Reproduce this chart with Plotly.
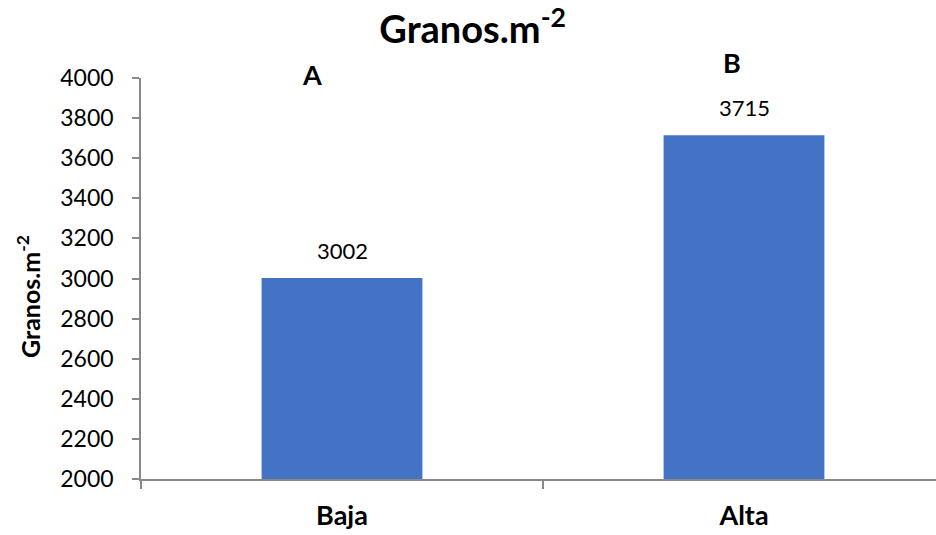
import plotly.graph_objects as go

# Grain density by planting density
categories = ["Baja", "Alta"]
granos = [3002, 3715]
letters = ["A", "B"]

y_ticks = list(range(2000, 4001, 200))

bar_color = "#4472C4"
axis_color = "#898989"
font_family = "Lato, 'Open Sans', sans-serif"

# plot-area geometry in pixels
W, H = 936, 535
ML, MR, MT, MB = 141, 0, 78, 56
plot_w = W - ML - MR
plot_h = H - MT - MB


def px_to_paper(px, py):
    return (px - ML) / plot_w, (H - MB - py) / plot_h


fig = go.Figure()
fig.add_trace(go.Bar(
    x=categories,
    y=granos,
    width=0.4,
    marker=dict(color=bar_color, line=dict(width=0)),
    showlegend=False,
    hoverinfo="skip",
))

annotations = []
# value labels above each bar
for cat, val in zip(categories, granos):
    annotations.append(dict(
        x=cat, y=val, xref="x", yref="y", text=str(val),
        showarrow=False, yanchor="bottom", yshift=12,
        font=dict(family=font_family, size=22, color="#000000"),
    ))
# significance letters
for (lx, ly), lt in zip([(312, 75), (732, 62)], letters):
    px, py = px_to_paper(lx, ly)
    annotations.append(dict(
        x=px, y=py, xref="paper", yref="paper", text=f"<b>{lt}</b>",
        showarrow=False, xanchor="center", yanchor="middle",
        font=dict(family=font_family, size=27, color="#000000"),
    ))
# y-axis title
tx, ty = px_to_paper(28, 297)
annotations.append(dict(
    x=tx, y=ty, xref="paper", yref="paper",
    text="<b>Granos.m<sup>-2</sup></b>", textangle=-90, showarrow=False,
    xanchor="center", yanchor="middle",
    font=dict(family=font_family, size=25, color="#000000"),
))

fig.update_layout(
    width=W, height=H,
    margin=dict(l=ML, r=MR, t=MT, b=MB),
    paper_bgcolor="white", plot_bgcolor="white",
    title=dict(
        text="<b>Granos.m<sup>-2</sup></b>",
        x=0.505, xref="container", xanchor="center",
        y=1 - 30 / H, yref="container", yanchor="middle",
        font=dict(family=font_family, size=38, color="#000000"),
    ),
    xaxis=dict(
        type="category",
        range=[-0.5, -0.5 + plot_w / 402],
        showline=True, linecolor=axis_color, linewidth=1.5,
        tickson="boundaries", ticks="outside", ticklen=8,
        tickcolor=axis_color, tickwidth=1.5,
        tickfont=dict(family=font_family, size=27, color="#000000"),
        tickvals=categories,
        ticktext=[f"<b>{c}</b>" for c in categories],
        ticklabelstandoff=12,
        showgrid=False, zeroline=False, fixedrange=True,
    ),
    yaxis=dict(
        range=[2000, 4000],
        tickvals=y_ticks,
        showline=True, linecolor=axis_color, linewidth=1.5,
        ticks="outside", ticklen=7, tickcolor=axis_color, tickwidth=1.5,
        tickfont=dict(family=font_family, size=23, color="#000000"),
        ticklabelstandoff=14,
        showgrid=False, zeroline=False, fixedrange=True,
    ),
    annotations=annotations,
)

fig.write_html("out.html", config={"displayModeBar": False})
